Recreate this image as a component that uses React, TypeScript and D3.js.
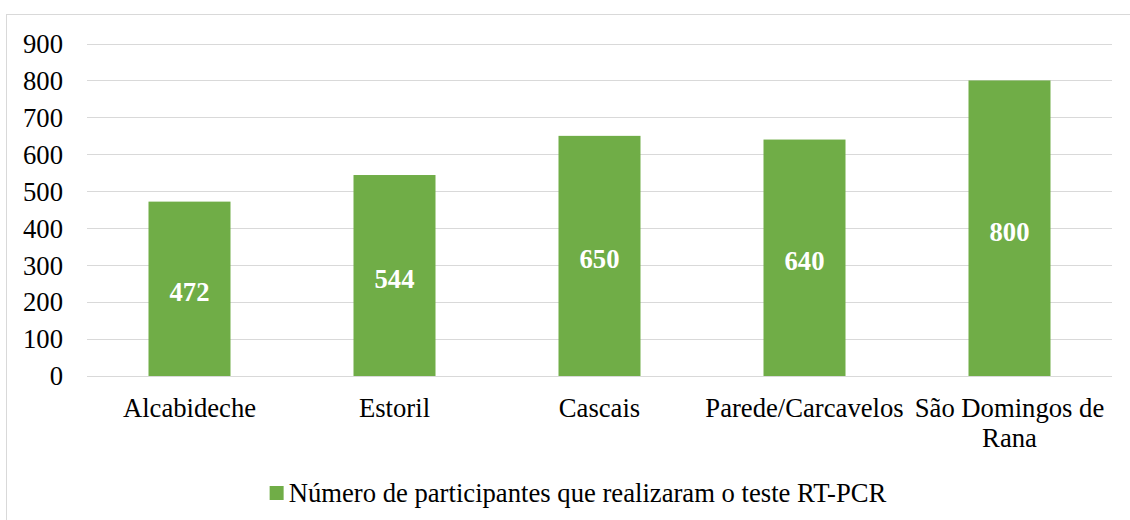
import React, { useEffect, useRef } from "react";
import * as d3 from "d3";

const categories = ["Alcabideche", "Estoril", "Cascais", "Parede/Carcavelos", "São Domingos de Rana"];
const values = [472, 544, 650, 640, 800];
const yTicks = [0, 100, 200, 300, 400, 500, 600, 700, 800, 900];
const seriesName = "Número de participantes que realizaram o teste RT-PCR";

const W = 1130;
const H = 520;
const FONT = "'Liberation Serif', 'Times New Roman', serif";
const FS = 26.67;

export default function App() {
  const ref = useRef<SVGSVGElement | null>(null);

  useEffect(() => {
    const svg = d3.select(ref.current);
    svg.selectAll("*").remove();

    const left = 87, right = 1112, top = 43.5, bottom = 376;
    const x = d3.scaleBand<string>().domain(categories).range([left, right]).paddingInner(0.6).paddingOuter(0.3);
    const y = d3.scaleLinear().domain([0, 900]).range([bottom, top]);

    // chart border
    svg.append("rect")
      .attr("x", 6.5).attr("y", 14.5).attr("width", W + 10).attr("height", H + 10)
      .attr("fill", "white").attr("stroke", "#d9d9d9").attr("stroke-width", 1);

    // gridlines
    svg.append("g").selectAll("line").data(yTicks).join("line")
      .attr("x1", left).attr("x2", right)
      .attr("y1", d => Math.round(y(d)) + 0.5).attr("y2", d => Math.round(y(d)) + 0.5)
      .attr("stroke", "#d9d9d9").attr("stroke-width", 1);

    // y labels
    svg.append("g").selectAll("text").data(yTicks).join("text")
      .attr("x", 63).attr("y", d => y(d))
      .attr("dy", "0.35em")
      .attr("text-anchor", "end")
      .attr("font-family", FONT).attr("font-size", FS).attr("fill", "#000")
      .text(d => String(d));

    // bars
    svg.append("g").selectAll("rect").data(values).join("rect")
      .attr("x", (_, i) => x(categories[i])!)
      .attr("width", x.bandwidth())
      .attr("y", d => y(d))
      .attr("height", d => y(0) - y(d))
      .attr("fill", "#70AD47");

    // bar labels
    svg.append("g").selectAll("text").data(values).join("text")
      .attr("x", (_, i) => x(categories[i])! + x.bandwidth() / 2)
      .attr("y", d => (y(d) + y(0)) / 2 + 3)
      .attr("dy", "0.35em")
      .attr("text-anchor", "middle")
      .attr("font-family", FONT).attr("font-size", FS).attr("font-weight", "bold")
      .attr("fill", "#fff")
      .text(d => String(d));

    // category labels with wrapping
    const step = x.step();
    const catG = svg.append("g");
    const baseY = 417;
    categories.forEach((c) => {
      const cx = x(c)! + x.bandwidth() / 2;
      const t = catG.append("text")
        .attr("x", cx).attr("y", baseY)
        .attr("text-anchor", "middle")
        .attr("font-family", FONT).attr("font-size", FS).attr("fill", "#000");
      const words = c.split(" ");
      let line: string[] = [];
      let lineNo = 0;
      let tspan = t.append("tspan").attr("x", cx).attr("y", baseY);
      words.forEach((w) => {
        line.push(w);
        tspan.text(line.join(" "));
        if ((tspan.node() as SVGTSpanElement).getComputedTextLength() > step - 2 && line.length > 1) {
          line.pop();
          tspan.text(line.join(" "));
          line = [w];
          lineNo++;
          tspan = t.append("tspan").attr("x", cx).attr("y", baseY + lineNo * 30).text(w);
        }
      });
    });

    // legend
    const lg = svg.append("g");
    const lt = lg.append("text")
      .attr("x", 287).attr("y", 493).attr("dy", "0.35em")
      .attr("font-family", FONT).attr("font-size", FS).attr("fill", "#000")
      .text(seriesName);
    const tw = (lt.node() as SVGTextElement).getComputedTextLength();
    const total = 14 + 5 + tw;
    const startX = 578 - total / 2;
    lg.insert("rect", "text")
      .attr("x", startX).attr("y", 486).attr("width", 14).attr("height", 14)
      .attr("fill", "#70AD47");
    lt.attr("x", startX + 19);
  }, []);

  return (
    <svg ref={ref} width={W} height={H} style={{ position: "absolute", left: 0, top: 0, display: "block" }} />
  );
}
